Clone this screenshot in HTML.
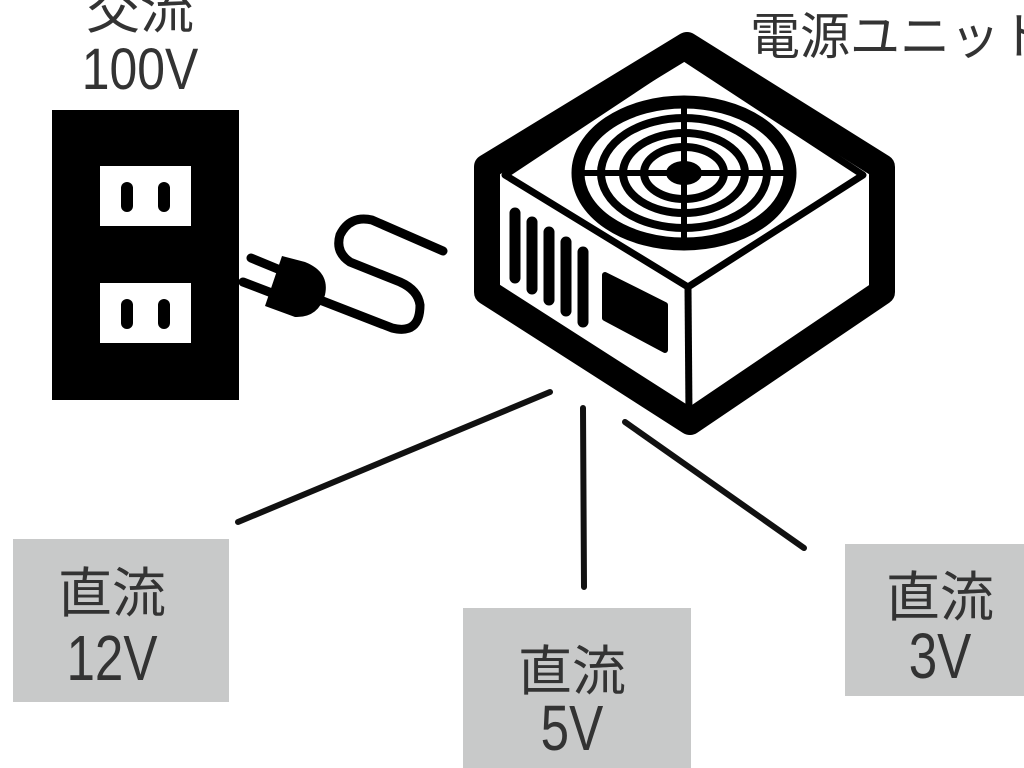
<!DOCTYPE html>
<html><head><meta charset="utf-8"><style>
html,body{margin:0;padding:0;background:#fff;width:1024px;height:768px;overflow:hidden}
svg text{font-family:"Liberation Sans","Noto Sans CJK JP",sans-serif;fill:#333}
</style></head><body>
<svg width="1024" height="768" viewBox="0 0 1024 768" xmlns="http://www.w3.org/2000/svg">
<text x="140" y="28" font-size="54" text-anchor="middle">交流</text>
<text x="140" y="89" font-size="58" text-anchor="middle" transform="translate(140 0) scale(0.86 1) translate(-140 0)">100V</text>
<text x="750" y="54" font-size="50">電源ユニット</text>
<rect x="52" y="110" width="187" height="290" fill="#000"/>
<rect x="100" y="166" width="91" height="60" fill="#fff"/>
<rect x="100" y="283" width="91" height="60" fill="#fff"/>
<g stroke="#000" stroke-width="12" stroke-linecap="round">
<line x1="127" y1="188" x2="127" y2="206"/><line x1="164" y1="188" x2="164" y2="206"/>
<line x1="127" y1="305" x2="127" y2="323"/><line x1="164" y1="305" x2="164" y2="323"/>
</g>
<g stroke="#000" stroke-linecap="round" fill="none">
<line x1="251" y1="258" x2="285" y2="272" stroke-width="9"/>
<line x1="243" y1="282" x2="277" y2="295" stroke-width="9"/>
<path d="M320 300 L392 328 Q420 335 420 305 Q418 290 400 282 L350 262 Q335 252 340 235 Q350 215 372 220 L443 251" stroke-width="9"/>
</g>
<path d="M282 256 L305 262 Q330 272 325 295 Q318 318 295 317 L265 306 Z" fill="#000"/>
<g stroke="#000" stroke-linejoin="round" fill="none">
<path d="M687 45 L882 167 L882 292 L690 422 L487 292 L487 167 Z" stroke-width="26"/>
<path d="M683 57 L863 175 L688 287 L505 175 Z" stroke-width="7"/>
<line x1="688" y1="287" x2="689" y2="415" stroke-width="7"/>
<ellipse cx="684" cy="173" rx="106" ry="71" stroke-width="13"/>
<ellipse cx="684" cy="173" rx="83" ry="55" stroke-width="8"/>
<ellipse cx="684" cy="173" rx="61" ry="40" stroke-width="8"/>
<ellipse cx="684" cy="173" rx="40" ry="26" stroke-width="8"/>
<line x1="578" y1="173" x2="790" y2="173" stroke-width="6"/>
<line x1="684" y1="100" x2="684" y2="246" stroke-width="6"/>
</g>
<ellipse cx="684" cy="173" rx="18" ry="12" fill="#000"/>
<g stroke="#000" stroke-width="11" stroke-linecap="round">
<line x1="515" y1="213" x2="515" y2="278"/>
<line x1="532" y1="222" x2="532" y2="289"/>
<line x1="549" y1="232" x2="549" y2="300"/>
<line x1="566" y1="242" x2="566" y2="311"/>
<line x1="583" y1="252" x2="583" y2="322"/>
</g>
<path d="M605 275 L665 305 L665 350 L605 318 Z" fill="#000" stroke="#000" stroke-width="6" stroke-linejoin="round"/>
<g stroke="#111" stroke-width="6" stroke-linecap="round">
<line x1="238" y1="522" x2="550" y2="392"/>
<line x1="583" y1="408" x2="584" y2="587"/>
<line x1="625" y1="422" x2="804" y2="548"/>
</g>
<rect x="13" y="539" width="216" height="163" fill="#c8c9c9"/>
<rect x="463" y="608" width="228" height="160" fill="#c8c9c9"/>
<rect x="845" y="544" width="179" height="152" fill="#c8c9c9"/>
<g text-anchor="middle">
<text x="112" y="612" font-size="54">直流</text>
<text x="112" y="680" font-size="64" transform="translate(112 0) scale(0.8 1) translate(-112 0)">12V</text>
<text x="572" y="690" font-size="54">直流</text>
<text x="572" y="750" font-size="64" transform="translate(572 0) scale(0.8 1) translate(-572 0)">5V</text>
<text x="940" y="616" font-size="54">直流</text>
<text x="940" y="678" font-size="64" transform="translate(940 0) scale(0.8 1) translate(-940 0)">3V</text>
</g>
</svg>
</body></html>
